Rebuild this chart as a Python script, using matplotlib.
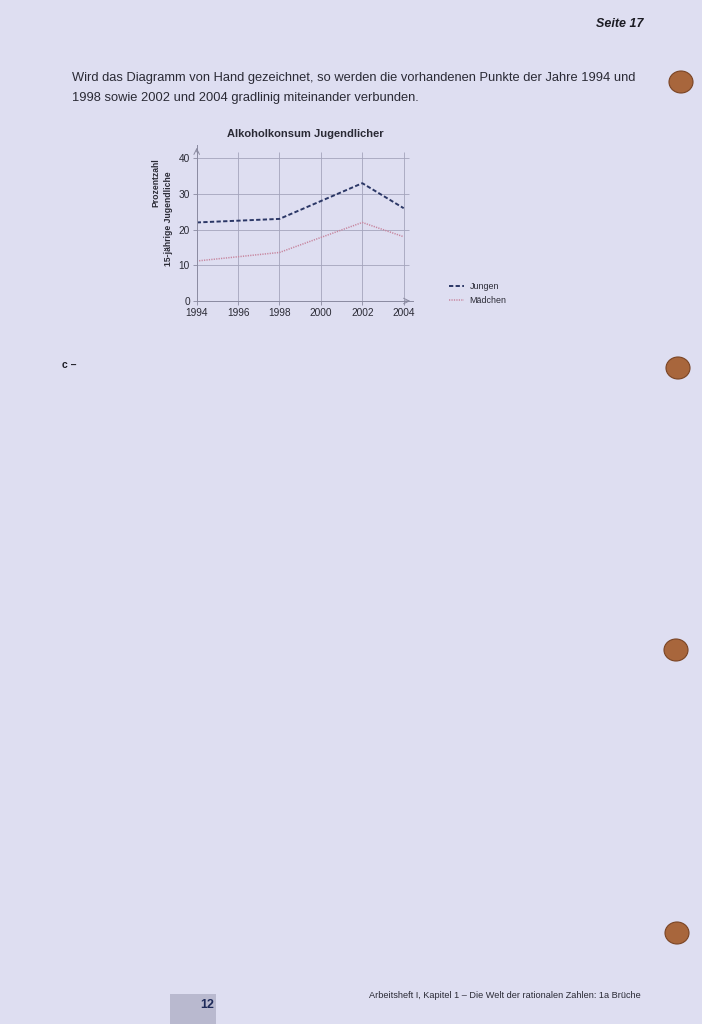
import numpy as np
import matplotlib
matplotlib.use("Agg")
import matplotlib.pyplot as plt
from matplotlib.patches import Ellipse, Rectangle

# Daten
jahre = [1994, 1998, 2000, 2002, 2004]
jungen = [22, 23, 28, 33, 26]
maedchen = [11.2, 13.6, 17.8, 22, 18]
x_ticks = [1994, 1996, 1998, 2000, 2002, 2004]
y_ticks = [0, 10, 20, 30, 40]

plt.rcParams['font.family'] = ['Liberation Sans', 'DejaVu Sans']

papier = '#dedef1'
navy = '#2b3766'
rosa = '#c7869f'
gitter = '#a4a4bc'
schrift = '#2a2a35'

fig = plt.figure(figsize=(7.02, 10.24), dpi=100)
fig.patch.set_facecolor(papier)

# Seite als Hintergrund (Pixelkoordinaten)
bg = fig.add_axes([0, 0, 1, 1], zorder=0)
bg.set_xlim(0, 702)
bg.set_ylim(1024, 0)
bg.axis('off')
for (hx, hy) in [(681, 82), (678, 368), (676, 650), (677, 933)]:
    bg.add_patch(Ellipse((hx, hy), 24, 22, facecolor='#a8663c', edgecolor='#7a4424', lw=0.8))
bg.add_patch(Rectangle((170, 994), 46, 30, facecolor='#b9b9cf', edgecolor='none'))

fig.text(644 / 702, 1 - 24 / 1024, 'Seite 17', ha='right', va='center',
         fontsize=9, fontweight='bold', style='italic', color='#1c1c24')
fig.text(72 / 702, 1 - 78 / 1024,
         'Wird das Diagramm von Hand gezeichnet, so werden die vorhandenen Punkte der Jahre 1994 und',
         ha='left', va='center', fontsize=9.25, color=schrift)
fig.text(72 / 702, 1 - 98 / 1024,
         '1998 sowie 2002 und 2004 gradlinig miteinander verbunden.',
         ha='left', va='center', fontsize=9.25, color=schrift)
fig.text(62 / 702, 1 - 365 / 1024, 'c –', ha='left', va='center',
         fontsize=7.5, fontweight='bold', color='#1c1c24')
fig.text(214 / 702, 1 - 1005 / 1024, '12', ha='right', va='center',
         fontsize=9, fontweight='bold', color='#1e2a5a')
fig.text(641 / 702, 1 - 995 / 1024,
         'Arbeitsheft I, Kapitel 1 – Die Welt der rationalen Zahlen: 1a Brüche',
         ha='right', va='center', fontsize=6.6, color=schrift)

# Diagramm
ax = fig.add_axes([196.7 / 702, 1 - 301 / 1024, (413 - 196.7) / 702, (301 - 145) / 1024], zorder=1)
ax.patch.set_alpha(0)
ax.set_xlim(1994, 2004.45)
ax.set_ylim(0, 43.7)

ax.hlines(y_ticks[1:], 1994, 2004.25, color=gitter, lw=0.6)
ax.vlines(x_ticks[1:], 0, 41.6, color=gitter, lw=0.6)

ax.plot(jahre, jungen, color=navy, lw=1.4, ls=(0, (2.2, 1.2)), label='Jungen')
ax.plot(jahre, maedchen, color=rosa, lw=1.1, ls=(0, (0.8, 0.8)), label='Mädchen')

for s in ['top', 'right']:
    ax.spines[s].set_visible(False)
for s in ['left', 'bottom']:
    ax.spines[s].set_color('#8a8aa0')
    ax.spines[s].set_linewidth(0.7)
ax.annotate('', xy=(2004.45, 0), xytext=(2003.9, 0),
            arrowprops=dict(arrowstyle='->', color='#8a8aa0', lw=0.7))
ax.annotate('', xy=(1994, 43.7), xytext=(1994, 41),
            arrowprops=dict(arrowstyle='->', color='#8a8aa0', lw=0.7))

ax.set_xticks(x_ticks)
ax.set_yticks(y_ticks)
ax.tick_params(labelsize=7.3, colors=schrift, length=3, width=0.6, pad=2)
ax.tick_params(axis='both', color='#8a8aa0')

ax.text(0.5, 1.07, 'Alkoholkonsum Jugendlicher', transform=ax.transAxes,
        ha='center', va='center', fontsize=8, fontweight='bold', color=schrift)
ax.text(-0.19, 0.76, 'Prozentzahl', transform=ax.transAxes, rotation=90,
        ha='center', va='center', fontsize=6.2, fontweight='bold', color=schrift)
ax.text(-0.13, 0.53, '15-jährige Jugendliche', transform=ax.transAxes, rotation=90,
        ha='center', va='center', fontsize=6.2, fontweight='bold', color=schrift)

leg = ax.legend(loc='upper left', bbox_to_anchor=(1.13, 0.17), frameon=False,
                fontsize=6.4, handlelength=1.7, handletextpad=0.6, labelspacing=0.5)
for t in leg.get_texts():
    t.set_color(schrift)

fig.savefig('out.png', dpi=100, facecolor=papier)
